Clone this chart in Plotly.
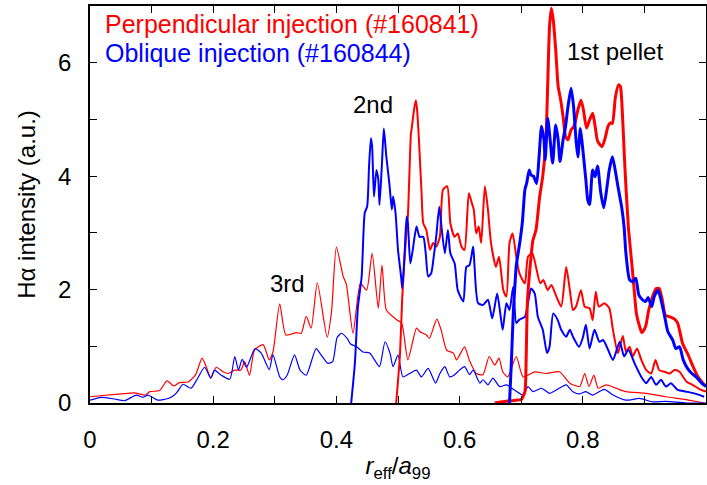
import plotly.graph_objects as go

# ---- H-alpha emission profiles vs normalised minor radius ----
# Perpendicular injection, shot #160841 (red)
perp_1st_x = [0.657, 0.676, 0.692, 0.700, 0.706, 0.708, 0.710, 0.713, 0.716, 0.719, 0.724, 0.730, 0.735, 0.740,
              0.743, 0.746, 0.749, 0.752, 0.756, 0.760, 0.764, 0.768, 0.772, 0.776, 0.781, 0.786, 0.792, 0.797,
              0.801, 0.806, 0.811, 0.816, 0.820, 0.824, 0.831, 0.836, 0.841, 0.845, 0.848, 0.853, 0.858, 0.861,
              0.864, 0.867, 0.870, 0.874, 0.879, 0.883, 0.887, 0.893, 0.896, 0.902, 0.907, 0.914, 0.919, 0.924,
              0.929, 0.934, 0.941, 0.949, 0.954, 0.962, 0.971, 0.979, 0.987, 0.995, 1.000]
perp_1st_y = [0.00, 0.03, 0.05, 0.06, 0.20, 0.76, 1.76, 2.23, 2.58, 2.87, 3.05, 3.64, 4.00, 4.60,
              5.60, 6.64, 6.96, 6.76, 6.23, 5.58, 5.35, 5.05, 4.70, 4.64, 4.82, 4.88, 5.17, 5.34,
              5.17, 4.85, 4.99, 5.11, 4.88, 4.62, 4.52, 4.66, 4.88, 4.94, 4.93, 5.40, 5.61, 5.58,
              5.17, 4.46, 3.82, 3.10, 2.52, 2.05, 1.58, 1.32, 1.24, 1.35, 1.64, 1.90, 2.02, 2.02,
              1.82, 1.55, 1.52, 1.48, 1.41, 1.05, 0.85, 0.64, 0.46, 0.35, 0.30]

perp_2nd_x = [0.497, 0.503, 0.507, 0.513, 0.516, 0.521, 0.522, 0.526, 0.529, 0.531, 0.534, 0.538, 0.541, 0.546,
              0.552, 0.557, 0.562, 0.568, 0.573, 0.580, 0.585, 0.592, 0.597, 0.603, 0.608, 0.615, 0.620, 0.623,
              0.627, 0.631, 0.635, 0.641, 0.646, 0.651, 0.659, 0.664, 0.671, 0.676, 0.681, 0.686, 0.692, 0.697,
              0.706, 0.711, 0.718, 0.724, 0.731, 0.736, 0.743, 0.749, 0.757, 0.765, 0.773, 0.779, 0.784, 0.789,
              0.797, 0.803, 0.811, 0.816, 0.821, 0.826, 0.835, 0.843, 0.849, 0.857, 0.865, 0.870, 0.876, 0.881,
              0.888, 0.895, 0.903, 0.911, 0.918, 0.924, 0.933, 0.941, 0.949, 0.957, 0.968, 0.978, 0.992, 1.000]
perp_2nd_y = [0.00, 0.82, 1.88, 2.93, 3.29, 4.76, 4.82, 5.17, 5.34, 5.17, 4.64, 3.76, 3.17, 3.05,
              2.70, 2.82, 2.76, 2.93, 3.76, 3.82, 3.17, 2.93, 2.99, 2.76, 2.70, 3.70, 3.52, 3.41,
              2.99, 3.11, 2.82, 3.82, 3.41, 2.82, 2.40, 2.58, 1.99, 1.88, 2.82, 2.99, 2.58, 2.29,
              2.11, 2.58, 2.64, 2.40, 2.11, 2.17, 1.99, 2.08, 1.88, 1.70, 2.40, 1.99, 1.64, 1.70,
              1.99, 1.70, 1.67, 1.46, 1.96, 1.70, 1.76, 1.67, 1.29, 0.88, 1.18, 0.91, 0.99, 0.82,
              0.96, 0.76, 0.58, 0.52, 0.76, 0.58, 0.55, 0.52, 0.58, 0.55, 0.38, 0.32, 0.23, 0.20]

perp_3rd_x = [0.000, 0.050, 0.072, 0.090, 0.097, 0.113, 0.125, 0.136, 0.145, 0.159, 0.171, 0.182, 0.189, 0.196,
              0.205, 0.216, 0.224, 0.235, 0.245, 0.251, 0.259, 0.267, 0.281, 0.291, 0.297, 0.308, 0.318, 0.335,
              0.343, 0.351, 0.359, 0.369, 0.385, 0.392, 0.400, 0.411, 0.416, 0.427, 0.439, 0.449, 0.458, 0.468,
              0.474, 0.481, 0.492, 0.499, 0.506, 0.516, 0.530, 0.535, 0.546, 0.551, 0.563, 0.570, 0.579, 0.590,
              0.595, 0.608, 0.616, 0.627, 0.638, 0.648, 0.657, 0.664, 0.670, 0.678, 0.692, 0.703, 0.722, 0.741,
              0.762, 0.779, 0.795, 0.803, 0.810, 0.818, 0.825, 0.838, 0.854, 0.870, 0.903, 0.935, 0.968, 0.997]
perp_3rd_y = [0.11, 0.16, 0.18, 0.14, 0.20, 0.22, 0.39, 0.30, 0.36, 0.37, 0.49, 0.79, 0.63, 0.44,
              0.63, 0.55, 0.52, 0.58, 0.58, 0.73, 0.49, 0.93, 1.03, 0.76, 0.90, 1.75, 1.20, 1.24,
              1.23, 1.53, 1.32, 2.12, 1.16, 1.60, 2.75, 2.23, 2.10, 1.23, 2.11, 1.99, 2.64, 1.67,
              2.43, 1.64, 1.52, 1.46, 1.41, 0.76, 1.32, 1.26, 1.20, 1.14, 1.48, 1.29, 0.93, 0.88,
              0.76, 0.99, 0.75, 0.52, 0.50, 0.82, 0.67, 0.79, 0.55, 0.46, 0.82, 0.46, 0.55, 0.52,
              0.55, 0.35, 0.29, 0.52, 0.29, 0.49, 0.26, 0.32, 0.26, 0.20, 0.17, 0.11, 0.06, 0.00]

# Oblique injection, shot #160844 (blue)
obl_1st_x = [0.681, 0.684, 0.687, 0.690, 0.692, 0.695, 0.698, 0.702, 0.706, 0.709, 0.713, 0.716, 0.720, 0.725,
             0.729, 0.733, 0.737, 0.739, 0.743, 0.747, 0.751, 0.756, 0.760, 0.763, 0.768, 0.772, 0.776, 0.781,
             0.785, 0.789, 0.792, 0.796, 0.799, 0.805, 0.808, 0.811, 0.816, 0.820, 0.824, 0.829, 0.834, 0.840,
             0.843, 0.848, 0.853, 0.857, 0.863, 0.867, 0.870, 0.876, 0.881, 0.886, 0.891, 0.897, 0.902, 0.906,
             0.912, 0.916, 0.922, 0.927, 0.933, 0.938, 0.946, 0.951, 0.957, 0.963, 0.970, 0.977, 0.984, 0.993, 1.000]
obl_1st_y = [0.00, 0.70, 1.55, 2.11, 2.42, 2.64, 2.85, 3.20, 3.76, 3.88, 4.11, 4.02, 4.00, 3.87,
             4.34, 4.88, 4.64, 4.29, 5.02, 4.64, 4.23, 4.90, 4.64, 4.26, 4.64, 4.88, 5.23, 5.55,
             5.23, 4.64, 4.34, 4.84, 4.58, 3.93, 3.58, 3.50, 4.11, 3.99, 4.18, 3.72, 3.44, 3.87,
             4.11, 4.34, 4.08, 3.82, 3.46, 3.11, 2.64, 2.17, 2.14, 2.20, 1.90, 1.82, 1.79, 1.86,
             1.70, 1.88, 1.99, 1.82, 1.52, 1.26, 1.11, 0.96, 0.99, 0.76, 0.61, 0.52, 0.46, 0.35, 0.29]

obl_2nd_x = [0.424, 0.430, 0.435, 0.441, 0.446, 0.450, 0.453, 0.456, 0.458, 0.461, 0.465, 0.468, 0.470, 0.474,
             0.477, 0.481, 0.486, 0.490, 0.492, 0.496, 0.500, 0.505, 0.507, 0.511, 0.514, 0.516, 0.520, 0.524,
             0.530, 0.535, 0.541, 0.545, 0.549, 0.554, 0.558, 0.562, 0.567, 0.570, 0.576, 0.581, 0.585, 0.592,
             0.597, 0.606, 0.611, 0.616, 0.622, 0.624, 0.630, 0.638, 0.646, 0.653, 0.661, 0.666, 0.670, 0.676,
             0.681, 0.687, 0.692, 0.697, 0.706, 0.711, 0.716, 0.722, 0.727, 0.735, 0.742, 0.746, 0.752, 0.759,
             0.765, 0.773, 0.779, 0.784, 0.794, 0.800, 0.805, 0.811, 0.819, 0.827, 0.833, 0.841, 0.849, 0.860,
             0.867, 0.874, 0.884, 0.895, 0.903, 0.911, 0.919, 0.927, 0.935, 0.943, 0.954, 0.968, 0.981, 0.997]
obl_2nd_y = [0.00, 0.70, 1.70, 2.23, 3.35, 3.47, 4.17, 4.67, 4.52, 3.64, 4.11, 3.94, 3.49, 4.23,
             4.84, 4.35, 3.87, 3.41, 3.64, 3.35, 2.70, 2.23, 2.02, 2.70, 3.29, 3.17, 2.46, 2.70,
             3.11, 2.93, 2.93, 2.64, 2.23, 2.29, 2.58, 2.93, 3.46, 3.17, 2.64, 3.05, 2.64, 2.46,
             1.99, 1.79, 2.40, 2.43, 2.76, 2.46, 1.76, 1.73, 1.82, 1.49, 1.93, 1.58, 1.29, 1.76,
             1.64, 2.05, 1.41, 1.47, 1.52, 1.76, 2.02, 1.93, 1.52, 1.29, 0.88, 0.99, 1.58, 1.47,
             1.29, 1.17, 1.29, 1.17, 0.99, 1.15, 1.38, 0.96, 1.29, 1.08, 1.11, 0.94, 0.76, 1.08,
             0.82, 0.94, 0.70, 0.46, 0.35, 0.46, 0.32, 0.41, 0.29, 0.35, 0.23, 0.20, 0.17, 0.11]

obl_3rd_x = [0.000, 0.018, 0.040, 0.056, 0.075, 0.086, 0.094, 0.110, 0.127, 0.137, 0.142, 0.151, 0.164, 0.175,
             0.186, 0.196, 0.202, 0.213, 0.227, 0.235, 0.241, 0.247, 0.254, 0.268, 0.278, 0.291, 0.297, 0.308,
             0.313, 0.320, 0.332, 0.341, 0.351, 0.367, 0.375, 0.386, 0.394, 0.401, 0.408, 0.418, 0.423, 0.433,
             0.443, 0.454, 0.462, 0.470, 0.479, 0.487, 0.492, 0.500, 0.508, 0.519, 0.530, 0.538, 0.549, 0.561,
             0.568, 0.576, 0.584, 0.592, 0.600, 0.608, 0.616, 0.622, 0.633, 0.638, 0.646, 0.654, 0.665, 0.676,
             0.689, 0.703, 0.711, 0.719, 0.733, 0.746, 0.757, 0.773, 0.784, 0.795, 0.805, 0.816, 0.835, 0.849,
             0.870, 0.892, 0.914, 0.935, 0.968, 1.000]
obl_3rd_y = [0.05, 0.10, 0.07, 0.04, 0.14, 0.10, 0.14, 0.05, 0.08, 0.14, 0.20, 0.33, 0.26, 0.44,
             0.63, 0.44, 0.58, 0.49, 0.42, 0.82, 0.58, 0.77, 0.63, 0.96, 0.88, 0.59, 0.85, 0.46,
             0.41, 0.49, 0.85, 0.58, 0.49, 0.96, 0.85, 0.70, 0.73, 1.15, 1.23, 1.13, 1.04, 0.99,
             0.90, 0.88, 0.76, 0.64, 1.08, 0.88, 0.64, 0.85, 0.46, 0.52, 0.58, 0.46, 0.61, 0.35,
             0.52, 0.64, 0.46, 0.50, 0.58, 0.64, 0.50, 0.58, 0.35, 0.41, 0.32, 0.44, 0.29, 0.32,
             0.23, 0.14, 0.29, 0.20, 0.26, 0.17, 0.23, 0.32, 0.20, 0.16, 0.20, 0.14, 0.24, 0.14,
             0.05, 0.08, 0.02, 0.03, 0.00, 0.00]

x_ticks = [0, 0.2, 0.4, 0.6, 0.8, 1.0]
x_ticklabels = ["0", "0.2", "0.4", "0.6", "0.8", "1"]
y_ticks = [0, 2, 4, 6]
y_ticklabels = ["0", "2", "4", "6"]

RED = "#ff0000"
BLUE = "#0000ff"
FONT = "Liberation Sans, Arial, Helvetica, sans-serif"

series = [
    (perp_3rd_x, perp_3rd_y, RED, 1.2),
    (obl_3rd_x, obl_3rd_y, BLUE, 1.2),
    (perp_2nd_x, perp_2nd_y, RED, 2.0),
    (obl_2nd_x, obl_2nd_y, BLUE, 2.0),
    (perp_1st_x, perp_1st_y, RED, 3.0),
    (obl_1st_x, obl_1st_y, BLUE, 3.0),
]

fig = go.Figure()
for xs, ys, col, w in series:
    fig.add_trace(go.Scatter(x=xs, y=ys, mode="lines",
                             line=dict(color=col, width=w, shape="spline", smoothing=0.6),
                             showlegend=False, hoverinfo="skip"))

axis_common = dict(
    showline=True, linecolor="black", linewidth=1.5, mirror="allticks",
    ticks="inside", ticklen=7, tickwidth=1.2, tickcolor="black",
    showgrid=False, zeroline=False,
    tickfont=dict(family=FONT, size=24, color="black"),
    title_font=dict(family=FONT, size=24, color="black"),
)

fig.update_xaxes(range=[0, 1.0], tickmode="array", tickvals=x_ticks, ticktext=x_ticklabels,
                 minor=dict(dtick=0.1, ticks="inside", ticklen=7, tickwidth=1.2, tickcolor="black",
                            showgrid=False),
                 title_text="<i>r</i><sub>eff</sub>/<i>a</i><sub>99</sub>", title_standoff=6,
                 ticklabelstandoff=14, **axis_common)
fig.update_yaxes(range=[0, 7], tickmode="array", tickvals=y_ticks, ticktext=y_ticklabels,
                 minor=dict(dtick=1, ticks="inside", ticklen=7, tickwidth=1.2, tickcolor="black",
                            showgrid=False),
                 title_text="H\u03b1 intensity (a.u.)", title_standoff=16,
                 ticklabelstandoff=12, **axis_common)

text_items = [
    ("Perpendicular injection (#160841)", 0.021, 6.68, RED, "left", 25),
    ("Oblique injection (#160844)", 0.021, 6.18, BLUE, "left", 25),
    ("1st pellet", 0.853, 6.20, "black", "center", 24),
    ("2nd", 0.459, 5.27, "black", "center", 24),
    ("3rd", 0.320, 2.10, "black", "center", 24),
]
for txt, x, y, col, anchor, size in text_items:
    fig.add_annotation(x=x, y=y, xref="x", yref="y", text=txt, showarrow=False,
                       xanchor=anchor, yanchor="middle",
                       font=dict(family=FONT, size=size, color=col))

fig.update_layout(
    width=707, height=485,
    margin=dict(l=90, r=1, t=6, b=82, autoexpand=False),
    paper_bgcolor="white", plot_bgcolor="white",
    font=dict(family=FONT, size=24, color="black"),
)

fig.write_html("out.html")
